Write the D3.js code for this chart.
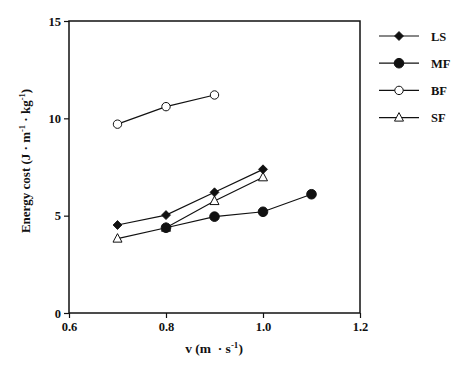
<!DOCTYPE html>
<html>
<head>
<meta charset="utf-8">
<script src="https://cdn.jsdelivr.net/npm/d3@7"></script>
<style>
  body { margin: 0; background: #fff; }
  text { font-family: "Liberation Serif", "Times New Roman", serif; font-weight: bold; fill: #111; }
</style>
</head>
<body>
<div id="chart"></div>
<script>
// data
const seriesNames = ["LS", "MF", "BF", "SF"];
const lsSpeed = [0.7, 0.8, 0.9, 1.0];
const lsCost = [4.52, 5.03, 6.2, 7.38];
const mfSpeed = [0.8, 0.9, 1.0, 1.1];
const mfCost = [4.38, 4.95, 5.2, 6.1];
const bfSpeed = [0.7, 0.8, 0.9];
const bfCost = [9.7, 10.6, 11.2];
const sfSpeed = [0.7, 0.8, 0.9, 1.0];
const sfCost = [3.82, 4.38, 5.75, 6.97];
const xTicks = [0.6, 0.8, 1.0, 1.2];
const yTicks = [0, 5, 10, 15];

const width = 461, height = 369;
const margin = { left: 69, right: 101, top: 21, bottom: 56 };

const svg = d3.select("#chart").append("svg")
    .attr("width", width)
    .attr("height", height);

const x = d3.scaleLinear().domain([0.6, 1.2]).range([margin.left, width - margin.right]);
const y = d3.scaleLinear().domain([0, 15]).range([height - margin.bottom, margin.top]);

// frame
svg.append("rect")
    .attr("x", x(0.6)).attr("y", y(15))
    .attr("width", x(1.2) - x(0.6)).attr("height", y(0) - y(15))
    .attr("fill", "none").attr("stroke", "#111").attr("stroke-width", 1.5);

const xAxis = svg.append("g")
    .attr("transform", "translate(0," + y(0) + ")")
    .call(d3.axisBottom(x).tickValues(xTicks).tickFormat(d3.format(".1f")).tickSize(5).tickPadding(4));
const yAxis = svg.append("g")
    .attr("transform", "translate(" + x(0.6) + ",0)")
    .call(d3.axisLeft(y).tickValues(yTicks).tickSize(5).tickPadding(3));

[xAxis, yAxis].forEach(function (g) {
    g.select(".domain").remove();
    g.selectAll("line").attr("stroke", "#111").attr("stroke-width", 1.2);
    g.selectAll("text").style("font-size", "12.5px")
        .style("font-family", "Liberation Serif, serif").style("font-weight", "bold").attr("fill", "#111");
});

const series = [
    { name: "LS", xs: lsSpeed, ys: lsCost, shape: "diamond", fill: "#111" },
    { name: "MF", xs: mfSpeed, ys: mfCost, shape: "circle", fill: "#111", r: 4.8 },
    { name: "BF", xs: bfSpeed, ys: bfCost, shape: "circle", fill: "#fff", r: 4.2 },
    { name: "SF", xs: sfSpeed, ys: sfCost, shape: "triangle", fill: "#fff" }
];

function drawMarker(g, s, cx, cy) {
    if (s.shape === "circle") {
        g.append("circle").attr("cx", cx).attr("cy", cy).attr("r", s.r)
            .attr("fill", s.fill).attr("stroke", "#111").attr("stroke-width", 1);
    } else if (s.shape === "diamond") {
        g.append("path")
            .attr("d", "M" + cx + "," + (cy - 4.5) + "L" + (cx + 4.5) + "," + cy + "L" + cx + "," + (cy + 4.5) + "L" + (cx - 4.5) + "," + cy + "Z")
            .attr("fill", s.fill).attr("stroke", "#111").attr("stroke-width", 0.8);
    } else {
        g.append("path")
            .attr("d", "M" + cx + "," + (cy - 5) + "L" + (cx + 4.5) + "," + (cy + 3.5) + "L" + (cx - 4.5) + "," + (cy + 3.5) + "Z")
            .attr("fill", s.fill).attr("stroke", "#111").attr("stroke-width", 1);
    }
}

const line = d3.line().x(d => x(d[0])).y(d => y(d[1]));

series.forEach(function (s) {
    const pts = s.xs.map((v, i) => [v, s.ys[i]]);
    svg.append("path").datum(pts)
        .attr("d", line).attr("fill", "none")
        .attr("stroke", "#111").attr("stroke-width", 1.2);
});
// MF drawn last so its dot covers the SF triangle at 0.8
[3, 2, 0, 1].forEach(function (k) {
    const s = series[k];
    const g = svg.append("g");
    s.xs.forEach((v, i) => drawMarker(g, s, x(v), y(s.ys[i])));
});

// legend
const legend = svg.append("g");
series.forEach(function (s, i) {
    const ly = 36 + i * 27.2;
    legend.append("line").attr("x1", 379).attr("x2", 419).attr("y1", ly).attr("y2", ly)
        .attr("stroke", "#111").attr("stroke-width", 1.2);
    drawMarker(legend, s, 399, ly);
    legend.append("text").attr("x", 431).attr("y", ly + 4.5)
        .style("font-size", "12.5px").text(s.name);
});

// axis titles
const yl = svg.append("text")
    .attr("transform", "translate(30,161) rotate(-90)")
    .attr("text-anchor", "middle")
    .style("font-size", "13px");
yl.append("tspan").text("Energy cost (J \u00b7 m");
yl.append("tspan").attr("dy", -5).style("font-size", "8.5px").text("-1");
yl.append("tspan").attr("dy", 5).text(" \u00b7 kg");
yl.append("tspan").attr("dy", -5).style("font-size", "8.5px").text("-1");
yl.append("tspan").attr("dy", 5).text(")");

const xl = svg.append("text")
    .attr("x", 214).attr("y", 353)
    .attr("text-anchor", "middle")
    .style("font-size", "13.5px")
    .attr("xml:space", "preserve");
xl.append("tspan").text("v (m  \u00b7 s");
xl.append("tspan").attr("dy", -5).style("font-size", "9px").text("-1");
xl.append("tspan").attr("dy", 5).text(")");
</script>
</body>
</html>
